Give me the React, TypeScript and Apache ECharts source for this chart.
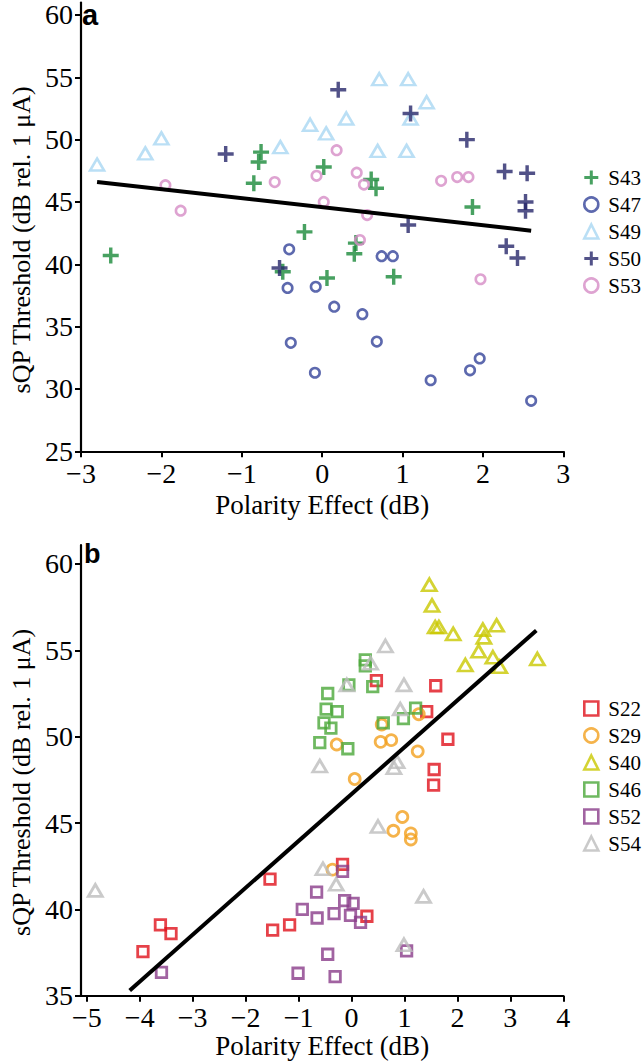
import React, { useEffect, useRef } from "react";
import * as echarts from "echarts";

// ---------- Panel a data: [polarity effect (dB), sQP threshold (dB)] ----------
const s43 = [[-2.63, 40.7], [-0.76, 49.0], [-0.79, 48.2], [-0.85, 46.5], [0.02, 47.8], [-0.22, 42.6], [0.61, 46.8], [0.67, 46.1], [1.87, 44.6], [0.42, 41.7], [0.4, 40.85], [-0.49, 39.4], [0.06, 38.9], [0.89, 39.0]];
const s47 = [[-0.41, 41.2], [-0.43, 38.1], [-0.08, 38.2], [-0.39, 33.7], [-0.09, 31.3], [0.15, 36.6], [0.5, 36.0], [0.68, 33.8], [0.74, 40.65], [0.88, 40.65], [1.35, 30.7], [1.84, 31.5], [1.96, 32.45], [2.6, 29.05]];
const s49 = [[-2.8, 48.0], [-2.2, 48.9], [-2.0, 50.1], [-0.52, 49.4], [-0.15, 51.2], [0.05, 50.5], [0.3, 51.7], [0.71, 54.85], [1.07, 54.85], [1.3, 53.0], [1.1, 51.7], [0.69, 49.1], [1.05, 49.1]];
const s50 = [[-1.2, 48.85], [0.2, 54.0], [1.1, 52.1], [1.8, 50.0], [2.27, 47.45], [2.55, 47.3], [2.53, 45.0], [2.53, 44.3], [1.07, 43.15], [2.29, 41.45], [2.43, 40.5], [-0.53, 39.7]];
const s53 = [[-1.95, 46.35], [-1.76, 44.3], [-0.59, 46.6], [-0.07, 47.1], [0.02, 45.0], [0.18, 49.15], [0.43, 47.35], [0.52, 46.4], [0.56, 43.95], [0.47, 41.95], [1.48, 46.7], [1.68, 47.0], [1.82, 47.0], [1.97, 38.8]];
const fitA = [[-2.8, 46.6], [2.6, 42.7]];

// ---------- Panel b data ----------
const s22 = [[0.47, 53.25], [1.59, 52.95], [1.42, 51.45], [1.82, 49.85], [1.56, 48.1], [1.55, 47.2], [-0.17, 42.6], [0.29, 39.6], [-1.17, 39.1], [-1.49, 38.8], [-1.54, 41.75], [-3.61, 39.1], [-3.41, 38.6], [-3.94, 37.55]];
const s29 = [[1.27, 51.3], [0.57, 50.7], [-0.28, 49.55], [0.55, 49.7], [0.75, 49.8], [1.25, 49.15], [0.06, 47.55], [0.96, 45.35], [0.79, 44.55], [1.12, 44.4], [1.12, 44.05], [-0.36, 42.3]];
const s40 = [[1.47, 58.8], [1.52, 57.6], [1.58, 56.35], [1.65, 56.35], [1.92, 55.95], [2.48, 56.2], [2.5, 55.75], [2.74, 56.45], [2.4, 54.95], [2.67, 54.6], [2.8, 54.05], [2.15, 54.15], [3.51, 54.5]];
const s46 = [[0.26, 54.45], [0.26, 54.1], [-0.05, 53.0], [0.4, 52.9], [-0.45, 52.5], [-0.48, 51.6], [-0.27, 51.45], [-0.52, 50.8], [-0.39, 50.5], [-0.6, 49.65], [-0.07, 49.3], [0.6, 50.8], [0.98, 51.05], [1.21, 51.65]];
const s52 = [[-0.17, 42.2], [-0.66, 41.0], [-0.93, 40.0], [-0.65, 39.5], [-0.33, 39.75], [-0.13, 40.5], [0.03, 40.35], [-0.02, 39.65], [0.17, 39.25], [-0.45, 37.4], [-1.01, 36.3], [-0.31, 36.1], [1.04, 37.6], [-3.59, 36.35]];
const s54 = [[-4.84, 41.1], [0.64, 55.25], [0.36, 54.25], [-0.09, 53.0], [0.99, 53.0], [0.92, 51.6], [-0.6, 48.3], [0.8, 48.2], [0.86, 48.55], [0.5, 44.8], [-0.54, 42.35], [-0.29, 41.45], [1.36, 40.75], [0.99, 37.95]];
const fitB = [[-4.19, 35.3], [3.49, 56.15]];

// ---------- Ticks ----------
const xTicksA = [-3, -2, -1, 0, 1, 2, 3];
const yTicksA = [25, 30, 35, 40, 45, 50, 55, 60];
const xTicksB = [-5, -4, -3, -2, -1, 0, 1, 2, 3, 4];
const yTicksB = [35, 40, 45, 50, 55, 60];
const legendA = ["S43", "S47", "S49", "S50", "S53"];
const legendB = ["S22", "S29", "S40", "S46", "S52", "S54"];

const SERIF = '"Liberation Serif", "Times New Roman", serif';
const SANS = '"Liberation Sans", Arial, sans-serif';
const PLUS = "path://M5.5,0H8.5V5.5H14V8.5H8.5V14H5.5V8.5H0V5.5H5.5Z";

function scatter(name: string, data: number[][], idx: number, symbol: string, color: string, size: any, hollow: boolean, bw = 2.6) {
  return {
    type: "scatter",
    name,
    data,
    xAxisIndex: idx,
    yAxisIndex: idx,
    symbol,
    symbolSize: size,
    itemStyle: hollow
      ? { color: "rgba(255,255,255,0)", borderColor: color, borderWidth: bw }
      : { color, borderWidth: 0 },
    emphasis: { disabled: true },
    z: 3,
  };
}

function fit(data: number[][], idx: number) {
  return {
    type: "line",
    data,
    xAxisIndex: idx,
    yAxisIndex: idx,
    showSymbol: false,
    symbol: "none",
    lineStyle: { color: "#000", width: 4 },
    z: 4,
  };
}

function xAxis(idx: number, min: number, max: number, ticks: number[], labelFmt: (v: number) => string, gap: number) {
  return {
    type: "value",
    gridIndex: idx,
    min,
    max,
    name: "Polarity Effect (dB)",
    nameLocation: "middle",
    nameGap: gap,
    nameTextStyle: { fontFamily: SERIF, fontSize: 27, color: "#000" },
    axisLine: { show: true, onZero: false, lineStyle: { color: "#000", width: 2.2 } },
    axisTick: { show: true, length: 6, lineStyle: { color: "#000", width: 2 }, customValues: ticks },
    axisLabel: { fontFamily: SERIF, fontSize: 28, color: "#000", margin: 8, customValues: ticks, formatter: labelFmt },
    splitLine: { show: false },
  };
}

function yAxis(idx: number, min: number, max: number, ticks: number[], shift: number) {
  return {
    type: "value",
    gridIndex: idx,
    min,
    max,
    name: "sQP Threshold (dB rel. 1 μA)",
    nameLocation: "middle",
    nameGap: 47,
    nameTextStyle: { fontFamily: SERIF, fontSize: 26, color: "#000", padding: [0, shift, 0, 0] },
    axisLine: { show: true, onZero: false, lineStyle: { color: "#000", width: 2.2 } },
    axisTick: { show: true, length: 6, lineStyle: { color: "#000", width: 2 }, customValues: ticks },
    axisLabel: { fontFamily: SERIF, fontSize: 28, color: "#000", margin: 8, customValues: ticks },
    splitLine: { show: false },
  };
}

const minus = (v: number) => (v < 0 ? "\u2212" + Math.abs(v) : String(v));

function legend(names: string[], top: number) {
  return {
    orient: "vertical",
    left: 578,
    top,
    padding: 5,
    itemWidth: 14,
    itemHeight: 14,
    itemGap: 0,
    data: names,
    selectedMode: false,
    itemStyle: { borderWidth: 2.6 },
    textStyle: { fontFamily: SERIF, fontSize: 21, color: "#000", lineHeight: 27, padding: [0, 0, 0, 5] },
  };
}

export default function App() {
  const ref = useRef<HTMLDivElement>(null);
  useEffect(() => {
    if (!ref.current) return;
    const chart = echarts.init(ref.current, null, { renderer: "svg" });
    chart.setOption({
      animation: false,
      backgroundColor: "#fff",
      textStyle: { fontFamily: SERIF },
      grid: [
        { left: 70, right: 79.7, top: 2.5, bottom: 611.7 },
        { left: 70, right: 79.7, top: 545, bottom: 67.3 },
      ],
      xAxis: [xAxis(0, -3, 3, xTicksA, minus, 40), xAxis(1, -5.11, 4, xTicksB, minus, 37)],
      yAxis: [yAxis(0, 25, 61, yTicksA, 26), yAxis(1, 35, 61.1, yTicksB, 24)],
      legend: [legend(legendA, 159), legend(legendB, 690)],
      graphic: [
        { type: "text", left: 82, top: 0, style: { text: "a", font: `bold 29px ${SANS}`, lineHeight: 17, fill: "#000" } },
        { type: "text", left: 84, top: 540, style: { text: "b", font: `bold 27px ${SANS}`, lineHeight: 27, fill: "#000" } },
      ],
      series: [
        fit(fitA, 0),
        scatter("S43", s43, 0, PLUS, "#1a8a3a", 16, false),
        scatter("S47", s47, 0, "circle", "#34449a", 9.5, true, 2.6),
        scatter("S49", s49, 0, "triangle", "#a9d7f2", [14, 12], true, 2.6),
        scatter("S50", s50, 0, PLUS, "#27276a", 16, false),
        scatter("S53", s53, 0, "circle", "#d68cc6", 9.5, true, 2.6),
        fit(fitB, 1),
        scatter("S22", s22, 1, "rect", "#e0111b", 10.5, true, 2.8),
        scatter("S29", s29, 1, "circle", "#f2a01e", 11, true, 2.8),
        scatter("S40", s40, 1, "triangle", "#c9c800", [14, 12], true, 2.8),
        scatter("S46", s46, 1, "rect", "#4ba83a", 10.5, true, 2.8),
        scatter("S52", s52, 1, "rect", "#8a3c8a", 10.5, true, 2.8),
        scatter("S54", s54, 1, "triangle", "#bdbdbd", [14, 12], true, 2.8),
      ],
    });
    return () => chart.dispose();
  }, []);
  return <div ref={ref} style={{ position: "absolute", left: 0, top: 0, width: 643, height: 1063 }} />;
}
